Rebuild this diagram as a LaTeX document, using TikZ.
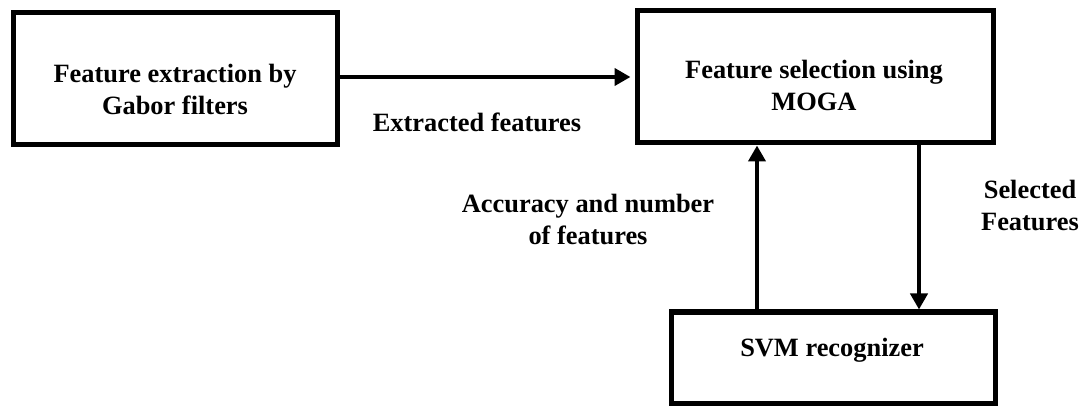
\documentclass[tikz,border=0pt]{standalone}
\usepackage{fontspec}
\setmainfont{Liberation Serif}
\usetikzlibrary{arrows.meta}
\begin{document}
\begin{tikzpicture}[x=1pt,y=-1pt,
  box/.style={draw,line width=5pt,inner sep=0pt},
  txt/.style={font=\fontsize{26.4}{32}\selectfont\bfseries,align=center,inner sep=0pt},
  conn/.style={line width=4pt,-{Triangle[length=16pt,width=17pt]}}]
\useasboundingbox (0,0) rectangle (1085,406);

% process boxes
\node[box,minimum width=324pt,minimum height=132pt] (b1) at (175,79) {};
\node[box,minimum width=356pt,minimum height=132pt] (b2) at (815,77) {};
\node[box,minimum width=324pt,minimum height=91pt]  (b3) at (833,357.5) {};

% box captions
\node[txt] (t1) at (175,89) {Feature extraction by\\Gabor filters};
\node[txt] (t2) at (814,85) {Feature selection using\\MOGA};
\node[txt] (t3) at (832,350) {SVM recognizer};

% columns of the vertical connectors
\coordinate (upx) at (757,0);
\coordinate (dnx) at (919,0);

% connectors
\draw[conn,shorten >=4pt] (b1.east |- b2.west) -- (b2.west);
\draw[conn] (b3.north -| upx) -- (b2.south -| upx);
\draw[conn] (b2.south -| dnx) -- (b3.north -| dnx);

% connector labels
\node[txt] (l1) at (477,122) {Extracted features};
\node[txt] (l2) at (588,220) {Accuracy and number\\of features};
\node[txt] (l3) at (1030,206) {Selected\\Features};
\end{tikzpicture}
\end{document}
